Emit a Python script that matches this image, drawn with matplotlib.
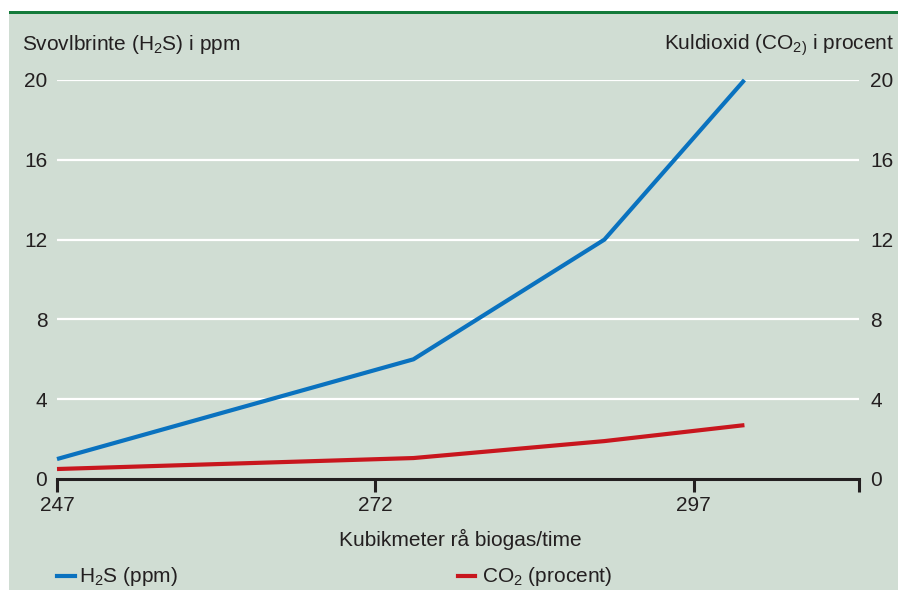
import matplotlib.pyplot as plt
from matplotlib.patches import Rectangle
from matplotlib.lines import Line2D

plt.rcParams['font.family'] = ['Liberation Sans', 'DejaVu Sans']
plt.rcParams['mathtext.fontset'] = 'custom'
plt.rcParams['mathtext.rm'] = 'Liberation Sans'
plt.rcParams['mathtext.it'] = 'Liberation Sans'
plt.rcParams['mathtext.default'] = 'regular'

# Data
kubikmeter = [247, 275, 290, 301]
h2s_ppm = [1.0, 6.0, 12.0, 20.0]
co2_procent = [0.5, 1.05, 1.9, 2.7]
x_ticks = [247, 272, 297, 310]
x_labels = ['247', '272', '297', '']
y_ticks = [0, 4, 8, 12, 16, 20]

bg = '#d0ddd3'
blue = '#0a72bf'
red = '#c8161e'
txt = '#231f20'
fs = 15

fig = plt.figure(figsize=(8.98, 5.90), dpi=100)
W, H = 898, 590

# baggrundspanel og grøn streg i toppen
fig.patches.append(Rectangle((9 / W, 0), 1 - 9 / W, 1 - 14 / H, transform=fig.transFigure,
                             facecolor=bg, edgecolor='none', zorder=-10))
fig.patches.append(Rectangle((9 / W, 1 - 14 / H), 1 - 9 / W, 3 / H, transform=fig.transFigure,
                             facecolor='#137a3a', edgecolor='none', zorder=-10))

ax = fig.add_axes([57 / W, 1 - 479 / H, (859 - 57) / W, (479 - 80) / H])
ax.set_facecolor('none')
ax.set_xlim(247, 310)
ax.set_ylim(0, 20)

for y in y_ticks[1:]:
    ax.axhline(y, color='white', lw=1.6, zorder=1)

ax.plot(kubikmeter, h2s_ppm, color=blue, lw=3, zorder=3, clip_on=False, solid_capstyle='butt')
ax.plot(kubikmeter, co2_procent, color=red, lw=3, zorder=3, clip_on=False, solid_capstyle='butt')

for s in ['left', 'right', 'top']:
    ax.spines[s].set_visible(False)
ax.spines['bottom'].set_color(txt)
ax.spines['bottom'].set_linewidth(2.2)
ax.spines['bottom'].set_zorder(4)

ax.set_xticks(x_ticks)
ax.set_xticklabels(x_labels)
ax.tick_params(axis='x', direction='out', length=9, width=2.2, color=txt,
               labelsize=fs, labelcolor=txt, pad=3)

ax.set_yticks(y_ticks)
ax.set_yticklabels([str(v) for v in y_ticks])
ax.tick_params(axis='y', length=0, labelsize=fs, labelcolor=txt, pad=7)

ax2 = ax.twinx()
ax2.set_ylim(0, 20)
ax2.set_yticks(y_ticks)
ax2.set_yticklabels([str(v) for v in y_ticks])
ax2.tick_params(axis='y', length=0, labelsize=fs, labelcolor=txt, pad=8)
for s in ['left', 'right', 'top', 'bottom']:
    ax2.spines[s].set_visible(False)

fig.text(22 / W, 1 - 45 / H, r'Svovlbrinte (H$_2$S) i ppm', fontsize=fs, color=txt,
         ha='left', va='center')
fig.text(894 / W, 1 - 45 / H, r'Kuldioxid (CO$_{2)}$ i procent', fontsize=fs, color=txt,
         ha='right', va='center')
fig.text(460 / W, 1 - 539 / H, 'Kubikmeter rå biogas/time', fontsize=fs, color=txt,
         ha='center', va='center')

# forklaring
fig.lines.append(Line2D([57 / W, 75 / W], [1 - 576 / H] * 2, transform=fig.transFigure,
                        color=blue, lw=3))
fig.text(79 / W, 1 - 577 / H, r'H$_2$S (ppm)', fontsize=fs, color=txt, ha='left', va='center')
fig.lines.append(Line2D([458 / W, 475 / W], [1 - 576 / H] * 2, transform=fig.transFigure,
                        color=red, lw=3))
fig.text(482 / W, 1 - 577 / H, r'CO$_2$ (procent)', fontsize=fs, color=txt, ha='left', va='center')

plt.savefig('out.png', dpi=100)
